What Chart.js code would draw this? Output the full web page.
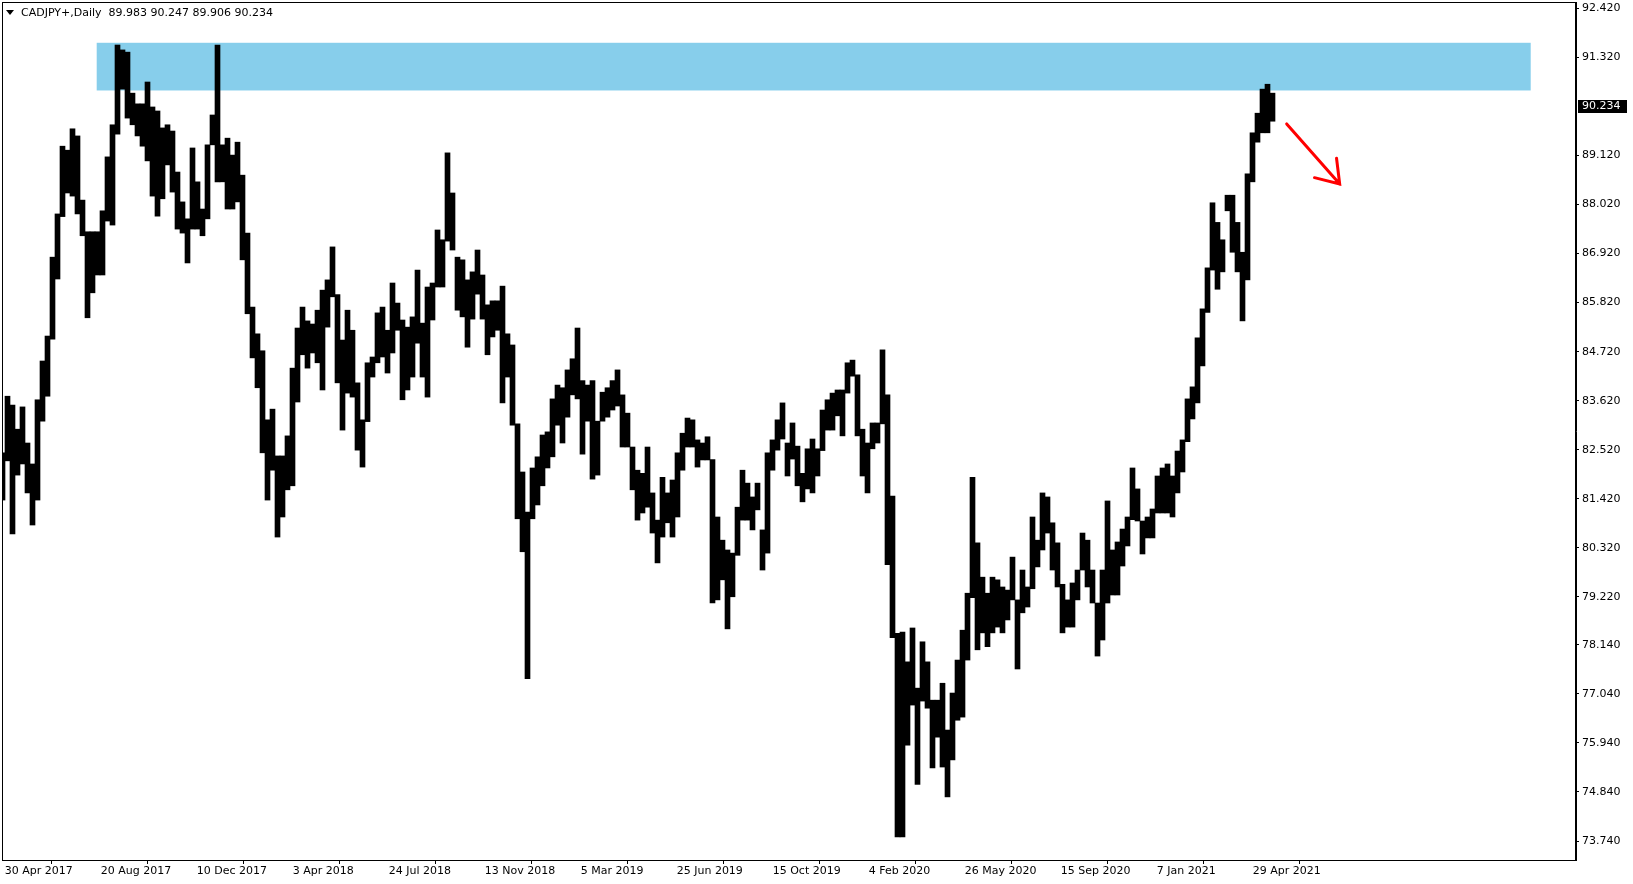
<!DOCTYPE html>
<html>
<head>
<meta charset="utf-8">
<title>CADJPY+ Daily</title>
<script src="https://cdn.jsdelivr.net/npm/chart.js@4.4.1/dist/chart.umd.min.js"></script>
<style>
    html, body { margin: 0; padding: 0; background: #fff; }
    #wrap { width: 1633px; height: 884px; position: relative; }
</style>
</head>
<body>
<div id="wrap"><canvas id="cadjpy"></canvas></div>
<script>
// Price ranges, one entry per 5 daily bars (high / low)
const highs = [
    82.45, 83.72, 83.52, 82.98, 83.48, 82.67, 82.20, 83.64, 84.51, 85.07,
    86.84, 87.81, 89.33, 89.24, 89.72, 89.56, 88.12, 87.41, 87.41, 87.41,
    87.88, 89.09, 89.81, 91.60, 91.49, 91.44, 90.52, 90.28, 90.28, 90.77,
    90.21, 90.12, 89.74, 89.81, 89.67, 88.75, 88.08, 87.70, 89.29, 88.53,
    87.92, 89.36, 90.03, 91.60, 89.36, 89.51, 89.13, 89.42, 88.68, 87.38,
    85.72, 85.12, 84.74, 83.19, 83.43, 82.38, 82.38, 82.83, 84.35, 85.25,
    85.72, 85.41, 85.34, 85.65, 86.10, 86.33, 87.07, 86.00, 84.98, 85.65,
    85.20, 84.02, 83.19, 84.47, 84.60, 85.59, 85.72, 85.20, 86.26, 85.81,
    85.43, 85.27, 85.50, 86.55, 85.36, 86.17, 86.26, 87.45, 87.23, 89.18,
    88.28, 86.84, 86.78, 86.33, 86.51, 87.00, 86.44, 85.77, 85.86, 85.86,
    86.19, 85.12, 84.87, 83.10, 82.02, 81.12, 82.11, 82.36, 82.85, 82.92,
    83.66, 83.97, 83.91, 84.31, 84.56, 85.25, 84.07, 83.97, 84.07, 83.16,
    83.81, 83.91, 84.07, 84.31, 83.75, 83.34, 82.58, 82.06, 81.99, 82.58,
    81.55, 80.94, 81.90, 81.55, 81.84, 82.45, 82.89, 83.23, 83.19, 82.74,
    82.67, 82.81, 82.30, 81.01, 80.49, 80.27, 80.20, 81.23, 82.06, 81.77,
    81.46, 81.77, 80.72, 82.45, 82.74, 83.19, 83.57, 82.67, 83.12, 82.60,
    81.99, 82.54, 82.76, 82.54, 83.41, 83.64, 83.79, 83.86, 83.86, 84.47,
    84.53, 84.20, 82.98, 82.67, 83.12, 83.12, 84.76, 83.75, 81.48, 78.40,
    78.43, 77.76, 78.52, 77.17, 78.21, 77.76, 76.90, 76.90, 77.28, 76.23,
    77.06, 77.80, 78.47, 79.30, 81.90, 80.43, 79.66, 79.30, 79.66, 79.60,
    79.44, 79.37, 80.11, 79.15, 79.82, 79.44, 81.01, 80.49, 81.55, 81.46,
    80.88, 80.43, 79.50, 79.15, 79.53, 79.82, 80.65, 80.49, 79.82, 79.08,
    79.82, 81.37, 80.27, 80.45, 80.74, 81.01, 82.11, 81.64, 80.92, 81.01,
    81.19, 81.93, 82.11, 82.20, 81.93, 82.49, 82.74, 83.66, 83.93, 85.03,
    85.68, 86.60, 88.06, 87.62, 87.23, 88.23, 88.23, 87.62, 86.95, 88.71,
    89.63, 90.07, 90.61, 90.72, 90.52
];
const lows = [
    81.39, 82.27, 80.63, 81.95, 82.20, 81.55, 80.83, 81.39, 83.16, 83.72,
    85.00, 86.35, 87.75, 88.28, 88.21, 87.81, 87.32, 85.48, 86.04, 86.44,
    86.44, 87.65, 87.56, 89.60, 90.61, 89.96, 89.81, 89.56, 89.33, 89.00,
    88.21, 87.76, 88.15, 88.91, 88.30, 87.47, 87.38, 86.71, 87.47, 87.47,
    87.32, 87.70, 89.36, 88.53, 88.53, 87.92, 87.92, 88.08, 86.78, 85.57,
    84.58, 83.91, 82.45, 81.39, 82.06, 80.56, 81.01, 81.62, 81.71, 83.59,
    84.65, 84.35, 84.69, 84.47, 83.86, 85.27, 85.95, 84.02, 82.96, 83.79,
    83.70, 82.51, 82.13, 83.15, 84.15, 84.47, 84.60, 84.24, 84.69, 85.20,
    83.64, 83.86, 84.15, 84.91, 84.15, 83.70, 85.43, 86.17, 86.17, 87.20,
    87.00, 85.65, 85.50, 84.82, 85.45, 86.01, 85.45, 84.65, 85.05, 85.20,
    83.57, 84.15, 83.07, 80.97, 80.23, 77.38, 80.97, 81.28, 81.71, 82.11,
    82.36, 83.07, 82.67, 83.25, 83.75, 83.66, 82.42, 83.16, 81.86, 81.95,
    83.16, 83.25, 83.41, 83.50, 82.58, 82.58, 81.62, 80.94, 81.10, 81.23,
    80.65, 79.98, 80.56, 80.88, 80.56, 81.01, 82.06, 82.58, 82.58, 82.13,
    82.29, 82.29, 79.08, 79.15, 79.60, 78.50, 79.22, 80.15, 80.94, 80.94,
    80.72, 81.17, 79.82, 80.20, 82.06, 82.51, 82.76, 81.93, 82.31, 81.71,
    81.35, 81.64, 81.55, 81.93, 82.50, 82.96, 82.96, 83.28, 82.83, 83.79,
    84.17, 82.83, 81.93, 81.55, 82.54, 82.67, 83.10, 79.94, 78.30, 73.83,
    73.83, 75.89, 76.79, 75.01, 76.88, 76.72, 75.38, 76.07, 75.40, 74.73,
    75.56, 76.45, 76.52, 77.80, 79.20, 78.03, 78.41, 78.10, 78.41, 78.54,
    78.41, 78.70, 79.15, 77.60, 78.86, 78.99, 79.40, 79.89, 80.27, 80.65,
    79.82, 79.44, 78.41, 78.54, 78.54, 79.15, 79.82, 79.44, 79.08, 77.89,
    78.25, 79.08, 79.26, 79.26, 79.91, 80.36, 80.95, 80.92, 80.18, 80.54,
    80.54, 81.10, 81.10, 81.10, 81.01, 81.55, 82.02, 82.70, 83.21, 83.57,
    84.40, 85.60, 86.55, 86.12, 86.51, 87.88, 86.95, 86.51, 85.41, 86.33,
    88.53, 89.42, 89.63, 89.63, 89.89
];
const barsPerEntry = 5;

// Axis labels
const dateLabels = ['30 Apr 2017', '20 Aug 2017', '10 Dec 2017', '3 Apr 2018', '24 Jul 2018',
    '13 Nov 2018', '5 Mar 2019', '25 Jun 2019', '15 Oct 2019', '4 Feb 2020',
    '26 May 2020', '15 Sep 2020', '7 Jan 2021', '29 Apr 2021'];
const barsPerDateLabel = 96;
const priceTicks = [92.42, 91.32, 89.12, 88.02, 86.92, 85.82, 84.72, 83.62, 82.52,
    81.42, 80.32, 79.22, 78.14, 77.04, 75.94, 74.84, 73.74];

// Header: symbol and last bar's open, high, low, close
const symbol = 'CADJPY+,Daily';
const lastOHLC = [89.983, 90.247, 89.906, 90.234];

// Resistance zone (bar index range and price range) and the drawn arrow
const zoneBars = [93, 1527];
const zonePrices = [90.58, 91.65];
const arrowBars = [1283, 1336];
const arrowPrices = [89.83, 88.48];

const FONT = '"DejaVu Sans", sans-serif';

const cadjpy = () => {
    // Build floating bars from the high/low arrays
    const bars = highs.map((h, i) => ({ x: i * barsPerEntry - 1.2, y: [lows[i], h] }));
    const dateBars = dateLabels.map((_, i) => i * barsPerDateLabel);

    // White background, zone box, frame, header, price tag, arrow
    const decorations = {
        id: 'decorations',
        beforeDraw(chart) {
            const ctx = chart.ctx;
            ctx.save();
            ctx.fillStyle = '#fff';
            ctx.fillRect(0, 0, chart.width, chart.height);
            ctx.restore();
        },
        beforeDatasetsDraw(chart) {
            const { ctx, chartArea, scales: { x, y } } = chart;
            ctx.save();
            ctx.beginPath();
            ctx.rect(chartArea.left, chartArea.top, chartArea.right - chartArea.left, chartArea.bottom - chartArea.top);
            ctx.clip();
            const x1 = x.getPixelForValue(zoneBars[0]);
            const x2 = x.getPixelForValue(zoneBars[1]);
            const y1 = y.getPixelForValue(zonePrices[1]);
            const y2 = y.getPixelForValue(zonePrices[0]);
            ctx.fillStyle = '#87CEEB';
            ctx.fillRect(x1, y1, x2 - x1, y2 - y1);
            ctx.restore();
        },
        afterDatasetsDraw(chart) {
            const { ctx, scales: { x, y } } = chart;
            // Red arrow
            const ax1 = x.getPixelForValue(arrowBars[0]);
            const ay1 = y.getPixelForValue(arrowPrices[0]);
            const ax2 = x.getPixelForValue(arrowBars[1]);
            const ay2 = y.getPixelForValue(arrowPrices[1]);
            const ang = Math.atan2(ay2 - ay1, ax2 - ax1);
            const head = 26;
            ctx.save();
            ctx.strokeStyle = '#ff0000';
            ctx.lineWidth = 3;
            ctx.lineCap = 'round';
            ctx.beginPath();
            ctx.moveTo(ax1, ay1);
            ctx.lineTo(ax2, ay2);
            ctx.moveTo(ax2 - head * Math.cos(ang - 0.6), ay2 - head * Math.sin(ang - 0.6));
            ctx.lineTo(ax2, ay2);
            ctx.lineTo(ax2 - head * Math.cos(ang + 0.6), ay2 - head * Math.sin(ang + 0.6));
            ctx.stroke();
            ctx.restore();
        },
        afterDraw(chart) {
            const { ctx, chartArea, scales: { y } } = chart;
            ctx.save();
            // Frame round the plot
            ctx.strokeStyle = '#000';
            ctx.lineWidth = 1;
            ctx.strokeRect(chartArea.left + 0.5, chartArea.top + 0.5,
                chartArea.right - chartArea.left - 1, chartArea.bottom - chartArea.top);

            // Header
            ctx.fillStyle = '#000';
            ctx.beginPath();
            ctx.moveTo(6, 10);
            ctx.lineTo(14, 10);
            ctx.lineTo(10, 15);
            ctx.closePath();
            ctx.fill();
            ctx.font = '11px ' + FONT;
            ctx.textBaseline = 'middle';
            ctx.textAlign = 'left';
            ctx.fillText(symbol + '  ' + lastOHLC.map(v => v.toFixed(3)).join(' '), 21, 13);

            // Last price tag on the price axis
            const last = lastOHLC[3];
            const py = Math.round(y.getPixelForValue(last));
            ctx.fillStyle = '#000';
            ctx.fillRect(chartArea.right + 2, py - 6, 49, 13);
            ctx.fillStyle = '#fff';
            ctx.fillText(last.toFixed(3), chartArea.right + 6, py + 0.5);
            ctx.restore();
        }
    };

    const chartconfig = {
        type: 'bar',
        data: {
            datasets: [{
                label: 'CADJPY+',
                data: bars,
                backgroundColor: '#000',
                borderWidth: 0,
                barThickness: 5,
            }]
        },
        options: {
            responsive: true,
            maintainAspectRatio: false,
            animation: false,
            devicePixelRatio: 1,
            layout: { padding: { left: 2, top: 2, right: 0, bottom: 0 } },
            scales: {
                x: {
                    type: 'linear',
                    position: 'bottom',
                    offset: false,
                    min: -1.7,
                    max: 1572.3,
                    afterBuildTicks: axis => { axis.ticks = dateBars.map(v => ({ value: v })); },
                    afterFit: axis => {
                        axis.height = 24;
                        axis.paddingLeft = 0;
                        axis.paddingRight = 0;
                    },
                    grid: { drawOnChartArea: false, drawTicks: true, tickLength: 4, color: '#000' },
                    border: { display: true, color: '#000' },
                    ticks: {
                        autoSkip: false,
                        maxRotation: 0,
                        align: 'start',
                        labelOffset: 1,
                        padding: 1,
                        color: '#000',
                        font: { family: FONT, size: 11 },
                        callback: (value, index) => dateLabels[index]
                    }
                },
                y: {
                    type: 'linear',
                    position: 'right',
                    min: 73.314,
                    max: 92.565,
                    afterBuildTicks: axis => { axis.ticks = priceTicks.map(v => ({ value: v })); },
                    afterFit: axis => {
                        axis.width = 57;
                        axis.paddingTop = 0;
                        axis.paddingBottom = 0;
                    },
                    grid: { drawOnChartArea: false, drawTicks: true, tickLength: 3, color: '#000' },
                    border: { display: true, color: '#000' },
                    ticks: {
                        padding: 3,
                        color: '#000',
                        font: { family: FONT, size: 11 },
                        callback: v => v.toFixed(3)
                    }
                }
            },
            plugins: {
                legend: { display: false },
                tooltip: { enabled: false },
                title: { display: false }
            }
        },
        plugins: [decorations]
    };

    const canvas = document.getElementById('cadjpy');
    if (canvas) {
        new Chart(canvas, chartconfig);
    } else {
        console.error('Canvas element with ID "cadjpy" not found');
    }
};

cadjpy();
</script>
</body>
</html>
